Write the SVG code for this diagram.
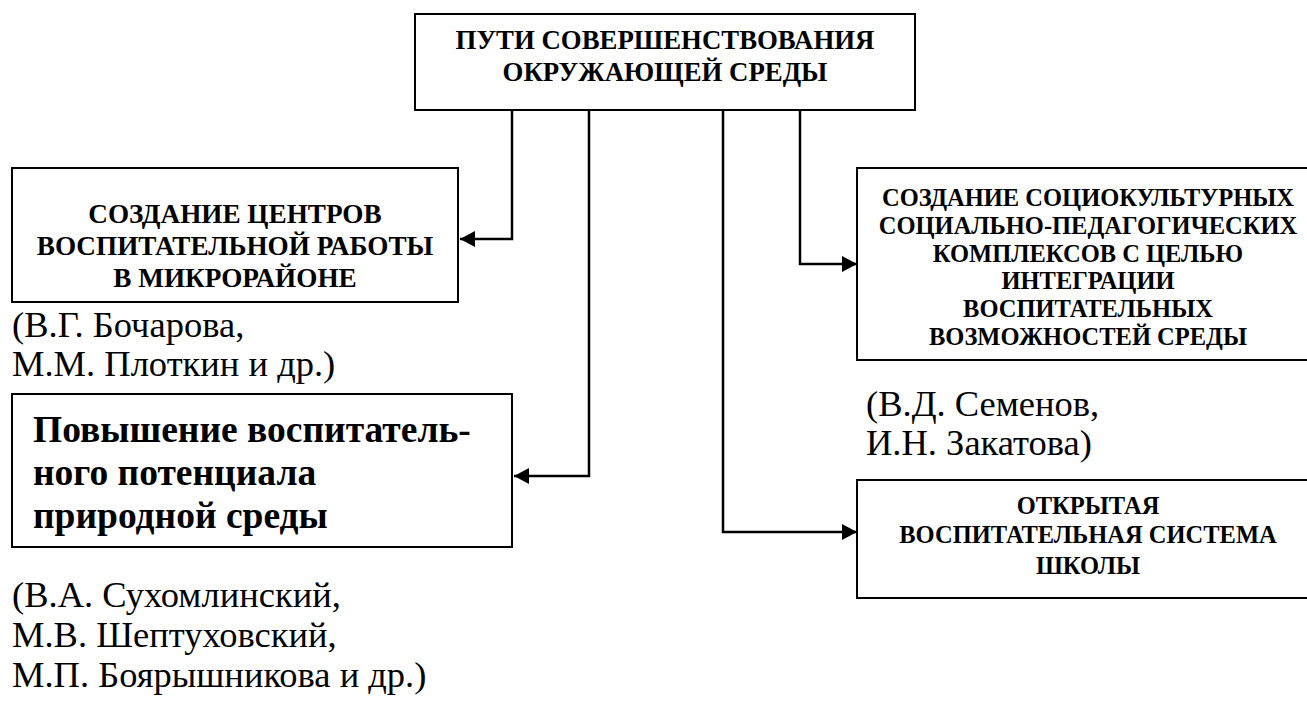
<svg xmlns="http://www.w3.org/2000/svg" width="1307" height="711" viewBox="0 0 1307 711">
<style>
.box{fill:#fff;stroke:#000;stroke-width:2}
.b{font-weight:bold;text-anchor:middle}
.t26{font-size:26.8px}
.t27{font-size:27.2px}
.t24{font-size:24.5px}
.big{font-weight:bold;font-size:37.5px}
.auth{font-size:36.5px}
.conn{fill:none;stroke:#000;stroke-width:2.5}
</style>
<defs>
<marker id="arr" markerUnits="userSpaceOnUse" markerWidth="16" markerHeight="16" refX="15" refY="8" orient="auto">
<path d="M0,0 L15,8 L0,16 z" fill="#000"/>
</marker>
</defs>
<rect width="1307" height="711" fill="#fff"/>
<g id="connectors">
<path class="conn" d="M512,110 V239 H460" marker-end="url(#arr)"/>
<path class="conn" d="M589,110 V476 H514" marker-end="url(#arr)"/>
<path class="conn" d="M723,110 V532 H857" marker-end="url(#arr)"/>
<path class="conn" d="M800,110 V264 H857" marker-end="url(#arr)"/>
</g>
<g font-family="Liberation Serif, Times New Roman, serif" fill="#000">
<g id="root">
<rect class="box" x="415" y="14" width="500" height="96"/>
<text class="b t26" x="665" y="49">ПУТИ СОВЕРШЕНСТВОВАНИЯ</text>
<text class="b t26" x="665" y="81">ОКРУЖАЮЩЕЙ СРЕДЫ</text>
</g>
<g id="centers">
<rect class="box" x="12" y="168" width="446" height="134"/>
<text class="b t27" x="235" y="223">СОЗДАНИЕ ЦЕНТРОВ</text>
<text class="b t27" x="235" y="255">ВОСПИТАТЕЛЬНОЙ РАБОТЫ</text>
<text class="b t27" x="235" y="287">В МИКРОРАЙОНЕ</text>
</g>
<g id="centers-authors">
<text class="auth" x="12" y="337">(В.Г. Бочарова,</text>
<text class="auth" x="12" y="376">М.М. Плоткин и др.)</text>
</g>
<g id="nature">
<rect class="box" x="12" y="394" width="500" height="153"/>
<text class="big" x="33" y="442">Повышение воспитатель-</text>
<text class="big" x="33" y="485">ного потенциала</text>
<text class="big" x="33" y="528">природной среды</text>
</g>
<g id="nature-authors">
<text class="auth" x="12" y="607">(В.А. Сухомлинский,</text>
<text class="auth" x="12" y="647">М.В. Шептуховский,</text>
<text class="auth" x="12" y="687">М.П. Боярышникова и др.)</text>
</g>
<g id="complexes">
<rect class="box" x="857" y="168" width="465" height="192"/>
<text class="b t24" x="1088" y="206">СОЗДАНИЕ СОЦИОКУЛЬТУРНЫХ</text>
<text class="b t24" x="1088" y="234">СОЦИАЛЬНО-ПЕДАГОГИЧЕСКИХ</text>
<text class="b t24" x="1088" y="262">КОМПЛЕКСОВ С ЦЕЛЬЮ</text>
<text class="b t24" x="1088" y="289">ИНТЕГРАЦИИ</text>
<text class="b t24" x="1088" y="317">ВОСПИТАТЕЛЬНЫХ</text>
<text class="b t24" x="1088" y="345">ВОЗМОЖНОСТЕЙ СРЕДЫ</text>
</g>
<g id="complexes-authors">
<text class="auth" x="866" y="416">(В.Д. Семенов,</text>
<text class="auth" x="866" y="455">И.Н. Закатова)</text>
</g>
<g id="open-system">
<rect class="box" x="857" y="480" width="465" height="118"/>
<text class="b t24" x="1088" y="514">ОТКРЫТАЯ</text>
<text class="b t24" x="1088" y="543">ВОСПИТАТЕЛЬНАЯ СИСТЕМА</text>
<text class="b t24" x="1088" y="574">ШКОЛЫ</text>
</g>
</g>
</svg>
